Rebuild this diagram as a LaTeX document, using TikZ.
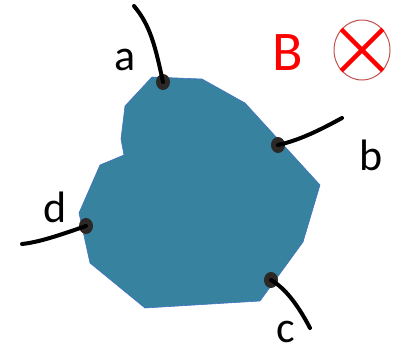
\documentclass[tikz,border=0pt]{standalone}
\usepackage{fontspec}
\setmainfont{Carlito}
\usetikzlibrary{shapes.geometric,calc}
\begin{document}
\begin{tikzpicture}[x=1pt,y=-1pt,
  wire/.style={line width=4pt,black,line cap=round},
  port/.style={ellipse,fill=black!92!olive,minimum width=14pt,minimum height=16pt,inner sep=0pt},
  lbl/.style={font=\fontsize{44}{44}\selectfont,inner sep=0pt},
  ]
\useasboundingbox (0,0) rectangle (399,349);
\fill[fill={rgb,255:red,54;green,130;blue,159},draw={rgb,255:red,68;green,114;blue,196},line width=0.6pt]
  (152,77) -- (202,79) -- (245,103) -- (320,185) -- (303,242) -- (260,301) -- (145,308)
  -- (90,263) -- (79,213) -- (100,165) -- (124,155) -- (121,139) -- (125,106) -- cycle;
\coordinate (aend) at (134,6);
\coordinate (bend) at (342,118);
\coordinate (cend) at (310,328);
\coordinate (dend) at (22,244);
\node[port] (pa) at (163,82) {};
\node[port] (pb) at (278,145) {};
\node[port] (pc) at (271,280) {};
\node[port] (pd) at (86,226) {};
\draw[wire] (pa.center) .. controls (155,45) and (150,25) .. (aend);
\draw[wire] (pb.center) .. controls (300,140) and (320,130) .. (bend);
\draw[wire] (pc.center) .. controls (285,288) and (298,305) .. (cend);
\draw[wire] (pd.center) .. controls (60,235) and (40,242) .. (dend);
\node[lbl] (la) at (125,60) {a};
\node[lbl] (lb) at (371,155) {b};
\node[lbl] (lc) at (286,332) {c};
\node[lbl] (ld) at (55,207) {d};
\node[font=\fontsize{56}{56}\selectfont,text={rgb,255:red,255;green,0;blue,0},inner sep=0pt] (lB) at (288,53) {B};
\node[draw={rgb,255:red,192;green,80;blue,77},line width=1pt,ellipse,minimum width=56pt,minimum height=60pt,inner sep=0pt] (cx) at (362,50) {};
\draw[line width=4.5pt,red] (cx.135) -- (cx.-45);
\draw[line width=4.5pt,red] (cx.45) -- (cx.-135);
\end{tikzpicture}
\end{document}
